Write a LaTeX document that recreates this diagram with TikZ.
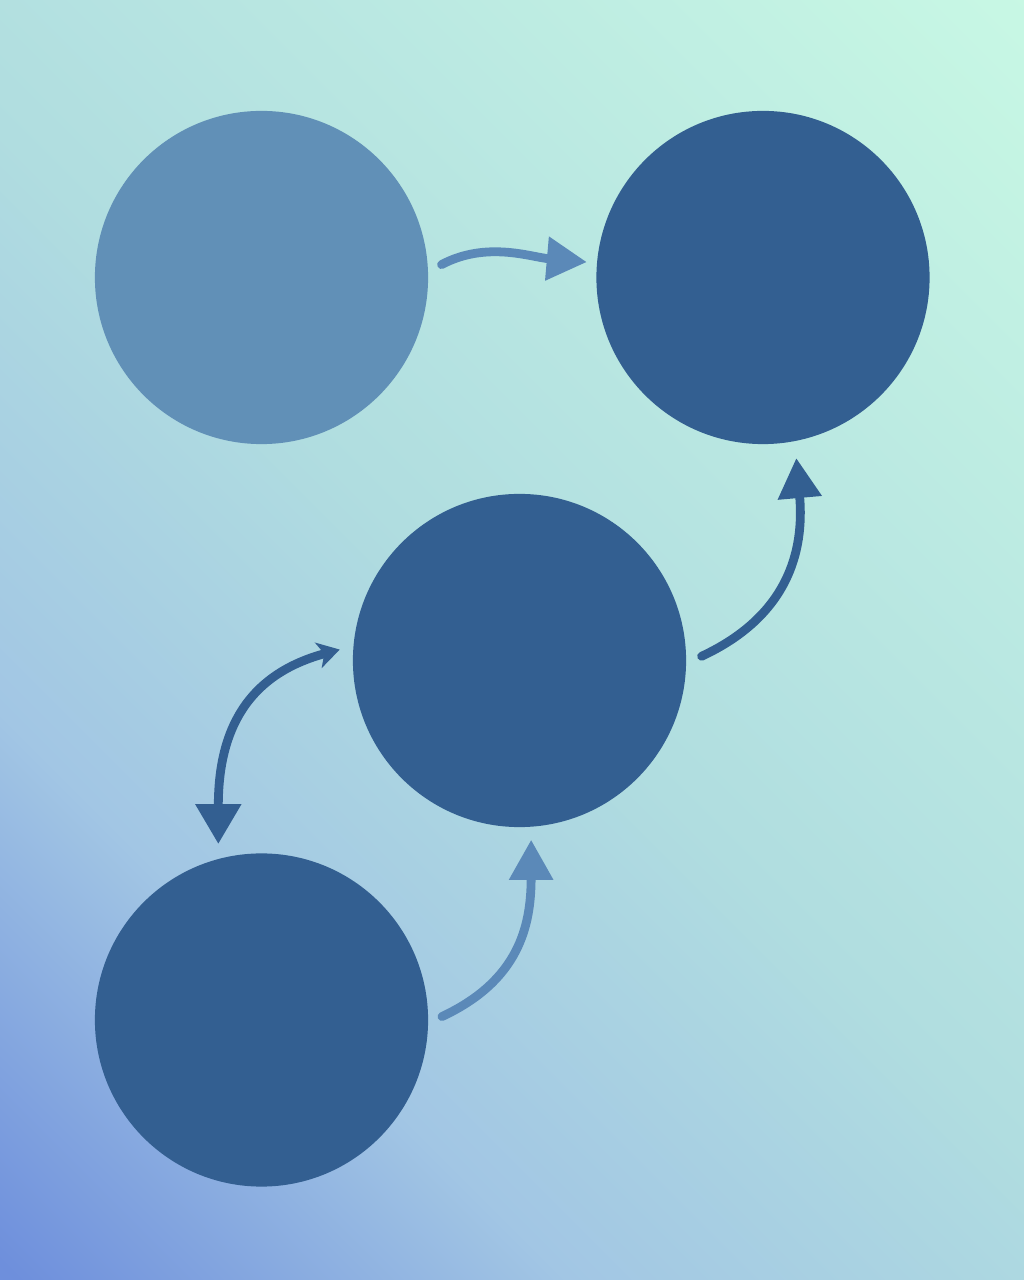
\documentclass[tikz,border=0pt]{standalone}
\usetikzlibrary{positioning,arrows.meta}

\definecolor{bgblue}{HTML}{6E8FDC}
\definecolor{bgsky}{HTML}{A2C6E4}
\definecolor{bgmid}{HTML}{B0DDE0}
\definecolor{bgmint}{HTML}{C8F8E4}
\definecolor{discdark}{HTML}{335F91}
\definecolor{disclight}{HTML}{6190B7}
\definecolor{flowlight}{HTML}{5B89B8}

\pgfdeclarehorizontalshading{bggrad}{100bp}{color(0bp)=(bgblue); color(15bp)=(bgblue); color(32bp)=(bgsky); color(50bp)=(bgmid); color(86bp)=(bgmint); color(100bp)=(bgmint)}

\begin{document}
\begin{tikzpicture}[on grid, disc/.style={circle, fill=discdark, minimum size=8.33cm, inner sep=0pt}, flow/.style={line width=0.22cm, line cap=round, draw=discdark}, head/.style={-{Triangle[length=1cm, width=1.05cm]}}]
  % Background
  \useasboundingbox (0,0) rectangle (25.6,32);
  \shade[shading=bggrad, shading angle=45] (0,0) rectangle (25.6,32);
  % Nodes
  \node[disc, fill=disclight] (start) at (6.5375,25.0625) {};
  \node[disc, right=12.5375cm of start] (goal) {};
  \node[disc, below=18.5625cm of start] (source) {};
  \node[disc, above right=8.9875cm and 6.45cm of source] (hub) {};
  % Connections
  \draw[flow, head, draw=flowlight, shorten <=0.375cm, shorten >=0.25cm] (start.2) to[out=28, in=175] (goal.175);
  \draw[flow, head, shorten <=0.42cm, shorten >=0.42cm] (hub.-1) to[out=25, in=-85, looseness=1.15] (goal.-79);
  \draw[flow, {Stealth[length=0.55cm, width=0.65cm, inset=0.15cm]}-{Triangle[length=1cm, width=1.1cm]}, shorten <=0.35cm, shorten >=0.37cm] (hub.175) to[out=195, in=90, looseness=1.2] (source.105);
  \draw[flow, head, draw=flowlight, shorten <=0.375cm, shorten >=0.32cm] (source.-1) to[out=25, in=-90, looseness=1.15] (hub.-86);
\end{tikzpicture}
\end{document}
